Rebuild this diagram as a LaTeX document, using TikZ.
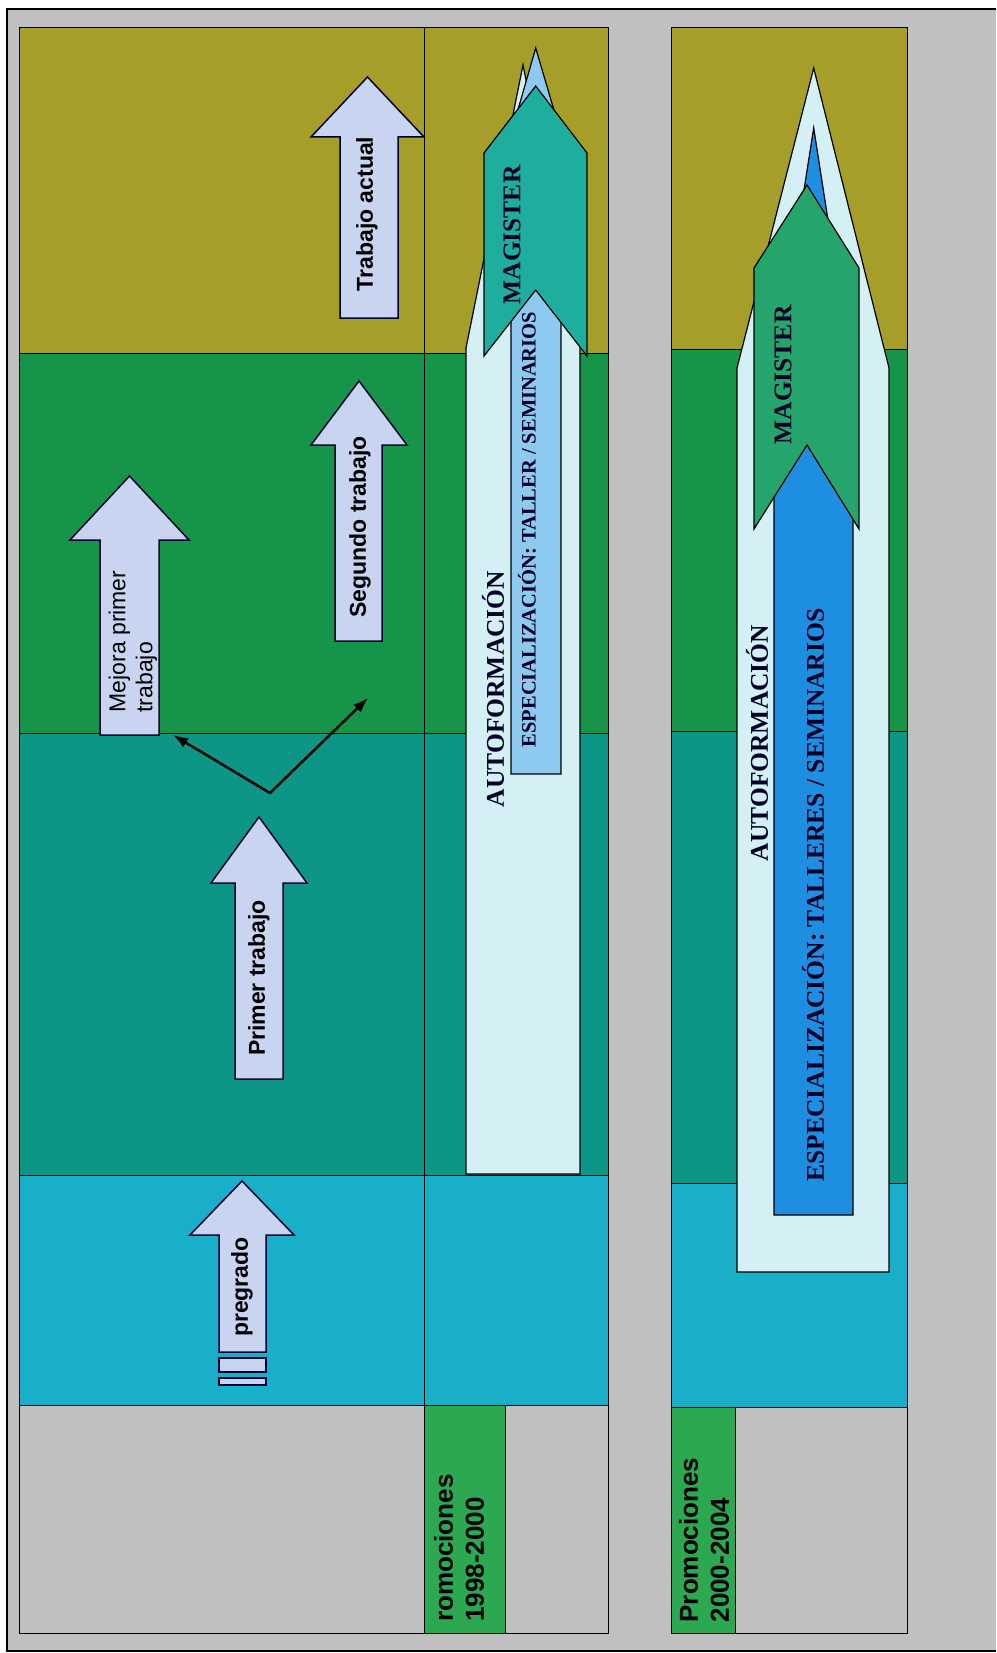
\documentclass[tikz,border=0pt]{standalone}
\usepackage{fontspec}
\usetikzlibrary{arrows.meta}
\newfontfamily\arialfont{Liberation Sans}
\newfontfamily\timesfont{Liberation Serif}

\definecolor{paper}{RGB}{192,192,194}
\definecolor{olivebd}{RGB}{165,159,42}
\definecolor{greenbd}{RGB}{22,149,74}
\definecolor{tealbd}{RGB}{13,149,133}
\definecolor{cyanbd}{RGB}{25,175,201}
\definecolor{labelgreen}{RGB}{44,168,80}
\definecolor{jobblue}{RGB}{201,213,240}
\definecolor{selfcol}{RGB}{212,240,244}
\definecolor{speclight}{RGB}{142,201,239}
\definecolor{specdark}{RGB}{30,143,224}
\definecolor{magteal}{RGB}{31,174,158}
\definecolor{maggreen}{RGB}{37,165,108}

\tikzset{
  band/.style={draw=black, line width=1pt},
  jobarrow/.style={fill=jobblue, draw=black!80!blue, line width=1.5pt},
  studyarrow/.style={draw=black, line width=1.2pt},
  jobtext/.style={rotate=90, inner sep=0pt, font=\arialfont\bfseries\fontsize{23}{27}\selectfont},
  jobplain/.style={rotate=90, inner sep=0pt, align=left, font=\arialfont\fontsize{23}{27}\selectfont},
  labeltext/.style={rotate=90, inner sep=0pt, align=left, font=\arialfont\bfseries\fontsize{26}{31}\selectfont},
  studytext/.style={rotate=90, inner sep=0pt, text=black!85!blue, font=\timesfont\bfseries\fontsize{25.5}{30}\selectfont}
}

\begin{document}
\begin{tikzpicture}[x=1pt, y=-1pt, >={Latex[length=15pt, width=11pt]}]
  % Page the size of the scan
  \useasboundingbox (0,0) rectangle (996,1653);
  \fill[white] (0,0) rectangle (996,1653);

  % Gray sheet and its frame
  \fill[paper] (7,9) rectangle (996,1651);
  \draw[line width=1.5pt] (996,9) -- (7,9) -- (7,1651) -- (996,1651);

  % Bands of the first panel
  \foreach \yt/\yb/\clr in {28/353/olivebd, 353/733/greenbd, 733/1175/tealbd, 1175/1405/cyanbd}
    \filldraw[band, fill=\clr] (19,\yt) rectangle (608,\yb);
  \draw[band] (19,28) rectangle (608,1633);
  \draw[band] (424,28) -- (424,1633);
  \filldraw[band, fill=labelgreen] (424,1405) rectangle (505,1633);
  \node[labeltext] (promoA) at (459,1548) {romociones\\1998-2000};

  % Bands of the second panel
  \foreach \yt/\yb/\clr in {28/349/olivebd, 349/731/greenbd, 731/1183/tealbd, 1183/1407/cyanbd}
    \filldraw[band, fill=\clr] (671.5,\yt) rectangle (907,\yb);
  \draw[band] (671.5,28) rectangle (907,1633);
  \filldraw[band, fill=labelgreen] (671.5,1407) rectangle (735,1633);
  \node[labeltext] (promoB) at (704,1540) {Promociones\\2000-2004};

  % Job arrows
  \foreach \xl/\xr/\hl/\hr/\ybot/\yhead/\ytip in {219/266/190/294/1352/1235/1181,
      235/283/211/307/1079/883/817, 100/159/70/189/735/540/476,
      335/382/311/407/641/445/381, 340/398/311/424/318/137/77}
    \filldraw[jobarrow] (\xl,\ybot) -- (\xl,\yhead) -- (\hl,\yhead) -- ({(\hl+\hr)/2},\ytip)
      -- (\hr,\yhead) -- (\xr,\yhead) -- (\xr,\ybot) -- cycle;

  % Stripes at the tail of pregrado
  \filldraw[jobarrow] (219,1358) rectangle (266,1372);
  \filldraw[jobarrow] (219,1378) rectangle (266,1385);

  \node[jobtext] (pregrado) at (242,1287) {pregrado};
  \node[jobtext] (primer) at (259,978) {Primer trabajo};
  \node[jobplain] (mejora) at (133,641.5) {Mejora primer\\trabajo};
  \node[jobtext] (segundo) at (360,527) {Segundo trabajo};
  \node[jobtext] (actual) at (367,214) {Trabajo actual};

  % Fork after the first job
  \coordinate (fork) at (270,793);
  \coordinate (mejorafoot) at (173,735);
  \coordinate (segundofoot) at (368,698);
  \draw[->, line width=2.5pt] (fork) -- (mejorafoot);
  \draw[->, line width=2.5pt] (fork) -- (segundofoot);

  % Studies of the first panel
  \filldraw[studyarrow, fill=selfcol] (466,1174) -- (466,348) -- (523,65) -- (580,348) -- (580,1174) -- cycle;
  \filldraw[studyarrow, fill=speclight] (511,774) -- (511,134) -- (535.7,48) -- (561,134) -- (561,774) -- cycle;
  \filldraw[studyarrow, fill=magteal] (484,356) -- (484,153) -- (535.7,86) -- (587,153) -- (587,356) -- (535.7,290) -- cycle;
  \node[studytext] (autoA) at (493,689) {AUTOFORMACIÓN};
  \node[studytext, font=\timesfont\bfseries\fontsize{20.5}{24}\selectfont] (specA) at (527,529.5) {ESPECIALIZACIÓN: TALLER / SEMINARIOS};
  \node[studytext] (magA) at (512,235) {MAGISTER};

  % Studies of the second panel
  \filldraw[studyarrow, fill=selfcol] (737,1272) -- (737,368) -- (813.7,68) -- (889,368) -- (889,1272) -- cycle;
  \filldraw[studyarrow, fill=specdark] (774,1215) -- (774,381) -- (813.7,128) -- (853,381) -- (853,1215) -- cycle;
  \filldraw[studyarrow, fill=maggreen] (754,529) -- (754,268) -- (807,185) -- (859,268) -- (859,529) -- (807,445) -- cycle;
  \node[studytext] (autoB) at (757,743) {AUTOFORMACIÓN};
  \node[studytext] (specB) at (813,895) {ESPECIALIZACIÓN: TALLERES / SEMINARIOS};
  \node[studytext] (magB) at (783,375) {MAGISTER};
\end{tikzpicture}
\end{document}
